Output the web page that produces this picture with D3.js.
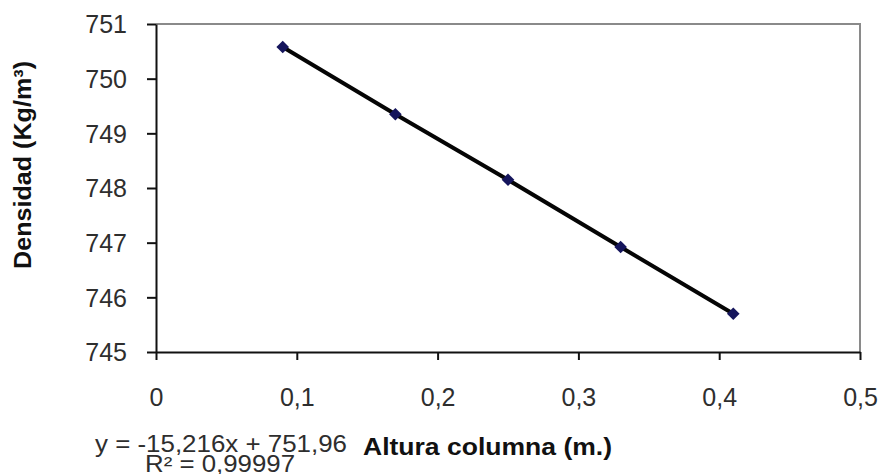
<!DOCTYPE html>
<html>
<head>
<meta charset="utf-8">
<script src="https://cdn.jsdelivr.net/npm/d3@7"></script>
<style>
  html, body { margin: 0; padding: 0; background: #fff; }
  svg { display: block; }
</style>
</head>
<body>
<svg id="chart" width="878" height="474"></svg>
<script>
// ---- data ----
const xValues = [0.09, 0.17, 0.25, 0.33, 0.41];
const yValues = [750.58, 749.35, 748.15, 746.92, 745.70];
const xTicks = [0, 0.1, 0.2, 0.3, 0.4, 0.5];
const yTicks = [745, 746, 747, 748, 749, 750, 751];
const xTitle = "Altura columna (m.)";
const yTitle = "Densidad (Kg/m³)";
const equationLines = ["y = -15,216x  + 751,96", "R² = 0,99997"];

// ---- layout ----
const W = 878, H = 474;
const FONT = "'Liberation Sans', Arial, sans-serif";
const plot = { left: 156, right: 860, top: 24, bottom: 352 };
const svg = d3.select("#chart").attr("font-family", FONT);
svg.append("rect").attr("width", W).attr("height", H).attr("fill", "#fff");

const x = d3.scaleLinear().domain([0, 0.5]).range([plot.left, plot.right]);
const y = d3.scaleLinear().domain([745, 751]).range([plot.bottom, plot.top]);
const fmt = d => d3.format(".1~f")(d).replace(".", ",");

// plot area border (top/right gray)
svg.append("path")
  .attr("d", `M${plot.left},${plot.top}H${plot.right}V${plot.bottom}`)
  .attr("fill", "none").attr("stroke", "#8a8a8a").attr("stroke-width", 2);

// y axis
const yAxis = svg.append("g").attr("transform", `translate(${plot.left},0)`)
  .call(d3.axisLeft(y).tickValues(yTicks).tickSizeInner(9).tickSizeOuter(0).tickPadding(19).tickFormat(d3.format("d")));
// x axis
const xAxis = svg.append("g").attr("transform", `translate(0,${plot.bottom})`)
  .call(d3.axisBottom(x).tickValues(xTicks).tickSizeInner(8).tickSizeOuter(0).tickPadding(27).tickFormat(d => d === 0 ? "0" : fmt(d)));

[yAxis, xAxis].forEach(g => {
  g.attr("font-family", FONT).attr("font-size", 25);
  g.select(".domain").attr("stroke", "#111").attr("stroke-width", 2);
  g.selectAll(".tick line").attr("stroke", "#111").attr("stroke-width", 2);
  g.selectAll(".tick text").attr("fill", "#2e2e2e").attr("font-size", 25);
});
yAxis.selectAll(".tick text").attr("x", -29).attr("dy", "0.35em").attr("text-anchor", "end");
xAxis.selectAll(".tick text").attr("y", 36).attr("dy", "0.71em").attr("text-anchor", "middle");

// series line
const pts = xValues.map((v, i) => [v, yValues[i]]);
svg.append("path")
  .datum(pts)
  .attr("d", d3.line().x(d => x(d[0])).y(d => y(d[1])))
  .attr("fill", "none").attr("stroke", "#050505").attr("stroke-width", 4)
  .attr("stroke-linecap", "round");

// markers (diamonds)
svg.append("g").selectAll("path")
  .data(pts).join("path")
  .attr("d", d3.symbol().type(d3.symbolSquare).size(80))
  .attr("transform", d => `translate(${x(d[0])},${y(d[1])}) rotate(45)`)
  .attr("fill", "#15155c");

// axis titles
svg.append("text")
  .attr("transform", `translate(31,165) rotate(-90)`)
  .attr("text-anchor", "middle")
  .attr("font-size", 24).attr("font-weight", "bold").attr("fill", "#111")
  .attr("textLength", 208).attr("lengthAdjust", "spacingAndGlyphs")
  .text(yTitle);

svg.append("text")
  .attr("x", 363).attr("y", 455)
  .attr("font-size", 24).attr("font-weight", "bold").attr("fill", "#111")
  .attr("textLength", 249).attr("lengthAdjust", "spacingAndGlyphs")
  .text(xTitle);

// trendline equation
svg.append("text")
  .attr("x", 95).attr("y", 452)
  .attr("font-size", 23).attr("fill", "#2e2e2e")
  .attr("textLength", 252).attr("lengthAdjust", "spacingAndGlyphs")
  .text(equationLines[0]);
svg.append("text")
  .attr("x", 145).attr("y", 472)
  .attr("font-size", 23).attr("fill", "#2e2e2e")
  .attr("textLength", 150).attr("lengthAdjust", "spacingAndGlyphs")
  .text(equationLines[1]);
</script>
</body>
</html>
